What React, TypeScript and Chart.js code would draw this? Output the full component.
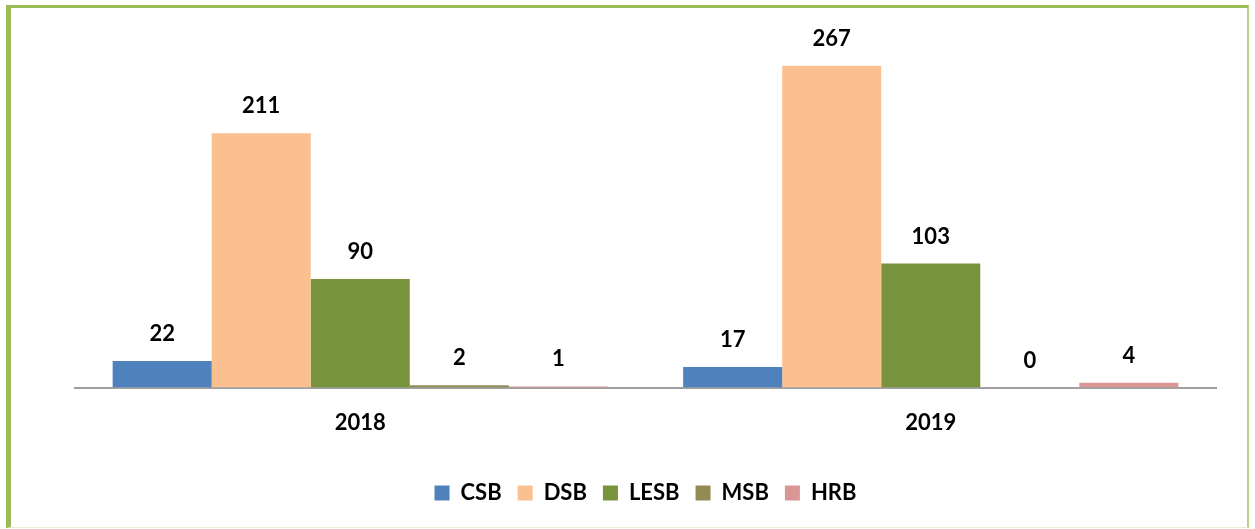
import React, { useEffect, useRef } from "react";
import { Chart, registerables } from "chart.js";

Chart.register(...registerables);

const categories = ["2018", "2019"];
const seriesNames = ["CSB", "DSB", "LESB", "MSB", "HRB"];
const csbValues = [22, 17];
const dsbValues = [211, 267];
const lesbValues = [90, 103];
const msbValues = [2, 0];
const hrbValues = [1, 4];
const seriesColors = ["#4F81BD", "#FAC090", "#77933C", "#948A54", "#D99694"];

const valueLabelPlugin = {
  id: "valueLabels",
  afterDatasetsDraw(chart: any) {
    const ctx = chart.ctx;
    ctx.save();
    ctx.font = "bold 22px Lato";
    ctx.fillStyle = "#000";
    ctx.textAlign = "center";
    ctx.textBaseline = "middle";
    chart.data.datasets.forEach((ds: any, i: number) => {
      const meta = chart.getDatasetMeta(i);
      meta.data.forEach((bar: any, j: number) => {
        ctx.fillText(String(ds.data[j]), bar.x, bar.y - 27);
      });
    });
    ctx.restore();
  },
};

export default function App() {
  const ref = useRef<HTMLCanvasElement>(null);
  useEffect(() => {
    const allValues = [csbValues, dsbValues, lesbValues, msbValues, hrbValues];
    const chart = new Chart(ref.current!, {
      type: "bar",
      data: {
        labels: categories,
        datasets: seriesNames.map((name, i) => ({
          label: name,
          data: allValues[i],
          backgroundColor: seriesColors[i],
          borderWidth: 0,
          barPercentage: 1,
          categoryPercentage: 0.868,
        })),
      },
      options: {
        animation: false,
        responsive: false,
        maintainAspectRatio: false,
        layout: { padding: { left: 75, right: 39, top: 26, bottom: 15 } },
        scales: {
          x: {
            grid: { display: false, drawTicks: false },
            border: { display: true, color: "#A0A0A0", width: 2 },
            ticks: {
              color: "#000",
              font: { family: "Lato", size: 22, weight: "bold" },
              padding: 22,
            },
            afterFit(scale: any) {
              scale.height += 8;
            },
          },
          y: {
            display: false,
            min: 0,
            max: 300,
          },
        },
        plugins: {
          legend: {
            position: "bottom",
            labels: {
              color: "#000",
              font: { family: "Lato", size: 22, weight: "bold" },
              boxWidth: 15,
              boxHeight: 15,
              padding: 16,
            },
          },
          tooltip: { enabled: false },
        },
      },
      plugins: [valueLabelPlugin],
    });
    return () => chart.destroy();
  }, []);
  return (
    <div style={{ position: "fixed", left: 0, top: 0, width: 1255, height: 529, background: "#fff" }}>
      <canvas ref={ref} width={1255} height={529} style={{ position: "absolute", left: 0, top: 0 }} />
      <div
        style={{
          position: "absolute",
          left: 6,
          top: 5,
          width: 1248 - 6 - 5 - 1,
          height: 528 - 5 - 3 - 1,
          borderLeft: "5px solid #9BBB59",
          borderTop: "3px solid #9BBB59",
          borderRight: "2px solid #B5D18A",
          borderBottom: "1px solid #E6EFD6",
          pointerEvents: "none",
        }}
      />
    </div>
  );
}
